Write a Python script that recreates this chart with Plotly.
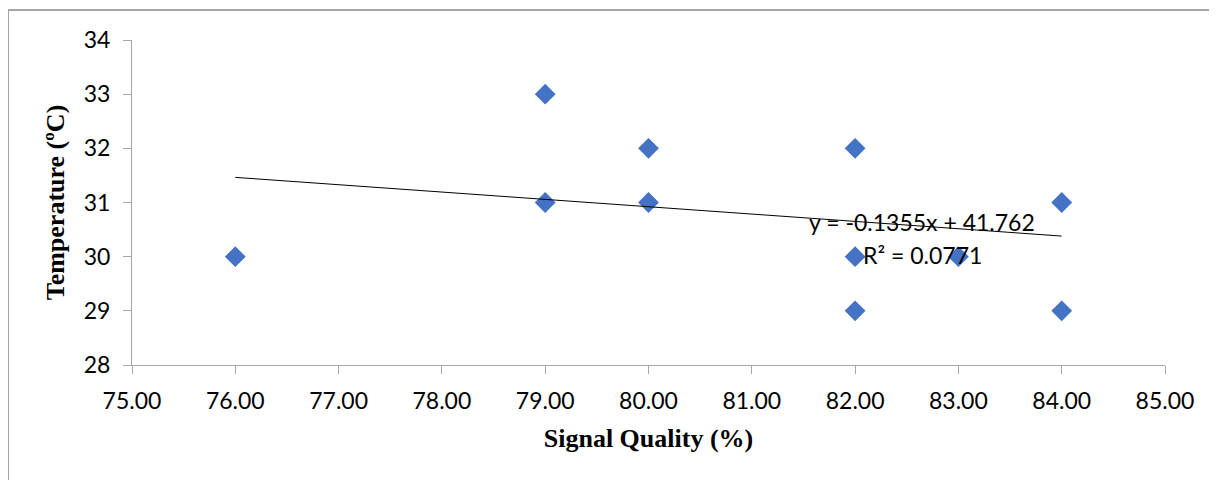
import plotly.graph_objects as go

# Data
signal_quality = [76, 79, 79, 80, 80, 82, 82, 82, 83, 84, 84]
temperature = [30, 33, 31, 32, 31, 32, 30, 29, 30, 31, 29]

# Trendline coefficients (as shown on the chart)
slope = -0.1355
intercept = 41.762
trend_x = [min(signal_quality), max(signal_quality)]
trend_y = [slope * x + intercept for x in trend_x]

x_ticks = [75, 76, 77, 78, 79, 80, 81, 82, 83, 84, 85]
y_ticks = [28, 29, 30, 31, 32, 33, 34]

fig = go.Figure()
fig.add_trace(go.Scatter(
    x=signal_quality, y=temperature, mode="markers",
    marker=dict(symbol="diamond", size=16, color="#4472C4"),
    showlegend=False, hoverinfo="x+y"))
fig.add_trace(go.Scatter(
    x=trend_x, y=trend_y, mode="lines",
    line=dict(color="black", width=1),
    showlegend=False, hoverinfo="skip"))

tick_font = dict(family="Lato, Carlito, Calibri, sans-serif", size=23, color="black")
title_font = dict(family="Liberation Serif, Times New Roman, serif", size=26, color="black")

fig.update_xaxes(
    range=[75, 85], tickvals=x_ticks, tickformat=".2f",
    showgrid=False, zeroline=False, showline=True, linecolor="#A6A6A6", linewidth=1,
    ticks="outside", ticklen=8, tickcolor="#A6A6A6", tickfont=tick_font,
    ticklabelstandoff=7,
    title=dict(text="<b>Signal Quality (%)</b>", font=title_font, standoff=16))
fig.update_yaxes(
    range=[28, 34], tickvals=y_ticks,
    showgrid=False, zeroline=False, showline=True, linecolor="#A6A6A6", linewidth=1,
    ticks="outside", ticklen=8, tickcolor="#A6A6A6", tickfont=tick_font,
    ticklabelstandoff=8,
    title=dict(text="<b>Temperature (ºC)</b>", font=title_font, standoff=11))

ann_font = dict(family="Lato, Carlito, sans-serif", size=23, color="black")
fig.add_annotation(x=82.65, y=30.64, xref="x", yref="y", text="y = -0.1355x + 41.762",
                   showarrow=False, font=ann_font)
fig.add_annotation(x=82.65, y=30.03, xref="x", yref="y", text="R² = 0.0771",
                   showarrow=False, font=ann_font)

# outer chart border (left and top edges visible)
fig.add_shape(type="rect", xref="paper", yref="paper",
              x0=-124/1033, x1=1.2, y0=-0.6, y1=1 + 30/325,
              line=dict(color="#A6A6A6", width=2), layer="below")

fig.update_layout(
    width=1217, height=480,
    margin=dict(l=124, r=60, t=32, b=123),
    plot_bgcolor="white", paper_bgcolor="white")

fig.write_html("out.html")
